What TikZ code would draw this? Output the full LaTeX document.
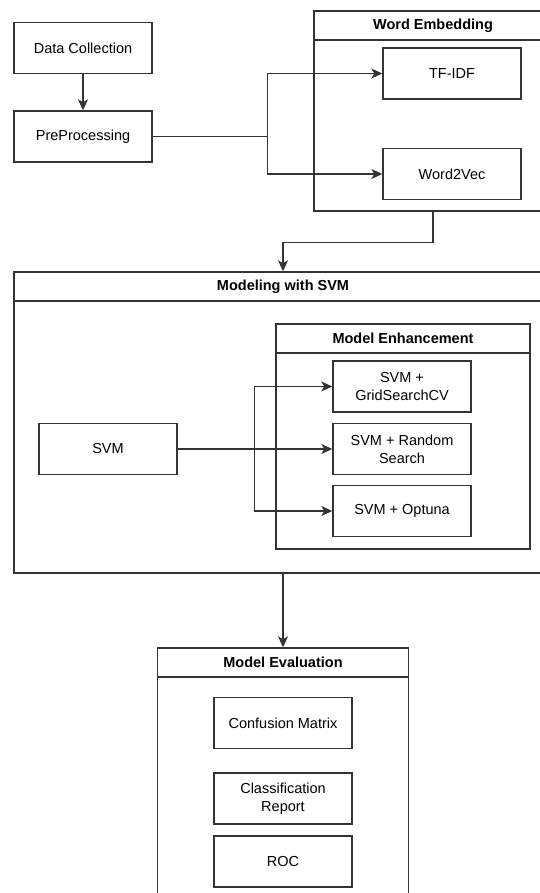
\documentclass[tikz,border=0pt]{standalone}
\usepackage{fontspec}
\setmainfont{Liberation Sans}
\usetikzlibrary{arrows.meta}

\begin{document}
\begin{tikzpicture}[x=1pt,y=-1pt]
	\useasboundingbox (0,0) rectangle (540,893);
	\tikzstyle{box}=[rectangle,draw=black!80,line width=1.4pt,minimum width=138pt,minimum height=51pt,align=center,font=\fontsize{14.5}{18}\selectfont]
	\tikzstyle{group}=[rectangle,draw=black!80,line width=1.4pt,inner sep=0pt]
	\tikzstyle{grouphead}=[rectangle,draw=black!80,line width=1.4pt,anchor=north,minimum height=29pt,font=\fontsize{14.5}{18}\selectfont\bfseries]
	\tikzstyle{link}=[draw=black!80,line width=1.4pt,-{Stealth[length=11pt,width=10pt,inset=3pt]}]

	% containers
	\node[group,minimum width=238pt,minimum height=200pt] (wordemb) at (433,111) {};
	\node[grouphead,minimum width=238pt] (wordembhead) at (wordemb.north) {Word Embedding};
	\node[group,minimum width=538pt,minimum height=301pt] (modeling) at (283,422.5) {};
	\node[grouphead,minimum width=538pt] (modelinghead) at (modeling.north) {Modeling with SVM};
	\node[group,minimum width=254pt,minimum height=225pt] (enhance) at (403,436.5) {};
	\node[grouphead,minimum width=254pt] (enhancehead) at (enhance.north) {Model Enhancement};
	\node[group,minimum width=251pt,minimum height=252pt] (modeleval) at (283,774) {};
	\node[grouphead,minimum width=251pt] (modelevalhead) at (modeleval.north) {Model Evaluation};

	% steps
	\node[box] (datacol) at (83,48) {Data Collection};
	\node[box] (preproc) at (83,136.5) {PreProcessing};
	\node[box] (tfidf) at (452,73.5) {TF-IDF};
	\node[box] (word2vec) at (452,174) {Word2Vec};
	\node[box] (svm) at (108,449) {SVM};
	\node[box] (svmgrid) at (402,386.5) {SVM +\\GridSearchCV};
	\node[box] (svmrand) at (402,449) {SVM + Random\\Search};
	\node[box] (svmoptuna) at (402,511) {SVM + Optuna};
	\node[box] (confmat) at (283,723) {Confusion Matrix};
	\node[box] (classrep) at (283,798.5) {Classification\\Report};
	\node[box] (roc) at (283,861.5) {ROC};

	% arrows
	\draw[link] (datacol) -- (preproc);
	\draw[link] (preproc.east) -- ++(115,0) |- (tfidf.west);
	\draw[link] (preproc.east) -- ++(115,0) |- (word2vec.west);
	\draw[link] (wordemb.south) -- ++(0,31) -| (modeling.north);
	\draw[link] (svm.east) -- (svmrand.west);
	\draw[link] (svm.east) -- ++(77,0) |- (svmgrid.west);
	\draw[link] (svm.east) -- ++(77,0) |- (svmoptuna.west);
	\draw[link] (modeling.south) -- (modeleval.north);
\end{tikzpicture}
\end{document}
